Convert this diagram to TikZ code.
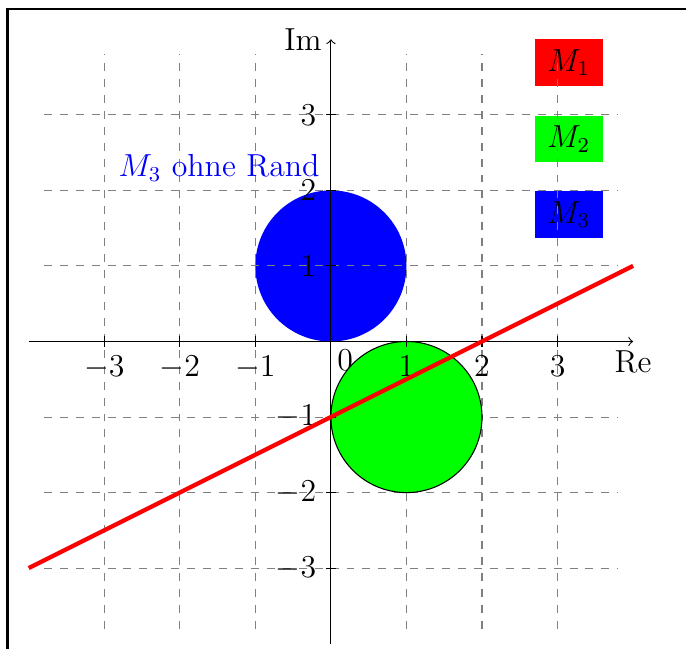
\documentclass[tikz,border=0pt]{standalone}
\usepackage{amsmath,amssymb}
\usepackage{tikz}
\begin{document}
\begin{tikzpicture}[>=to,scale=1,font=\large,
  legbox/.style={minimum width=0.91cm,minimum height=0.62cm,inner sep=0pt}]
	  \useasboundingbox (-4.38,-4.07) rectangle (4.70,4.52);
	  \draw[line width=1pt] (-4.28,4.40) rectangle (5.2,-5.2);
	  \node[legbox,fill=red] (m1) at (3.15,3.69) {$M_1$};
	  \node[legbox,fill=green] (m2) at (3.15,2.68) {$M_2$};
	  \node[legbox,fill=blue] (m3) at (3.15,1.68) {$M_3$};
	  \fill[blue] (0,1) circle (1);
	  \draw[gray,dashed] (-3.8,-3.8) grid (3.8,3.8);
	  \draw[->] (-4,0) -- (4,0);
	  \draw[->] (0,-4) -- (0,4);
	  \node[below] (re) at (4,0) {Re};
	  \node[left] (im) at (0,4) {Im};
	  \node (o) at (0.19,-0.25) {$0$};
	  \draw[fill=green] (1,-1) circle (1);
	  \draw (-3,0.07) -- (-3,-0.07) node[below] (xm3) {$-3$};
	  \draw (-2,0.07) -- (-2,-0.07) node[below] (xm2) {$-2$};
	  \draw (-1,0.07) -- (-1,-0.07) node[below] (xm1) {$-1$};
	  \draw (1,0.07) -- (1,-0.07) node[below] (x1) {$1$};
	  \draw (2,0.07) -- (2,-0.07) node[below] (x2) {$2$};
	  \draw (3,0.07) -- (3,-0.07) node[below] (x3) {$3$};
	  \draw (0.07,3) -- (-0.07,3) node[left] (y3) {$3$};
	  \draw (0.07,2) -- (-0.07,2) node[left] (y2) {$2$};
	  \draw (0.07,1) -- (-0.07,1) node[left] (y1) {$1$};
	  \draw (0.07,-1) -- (-0.07,-1) node[left] (ym1) {$-1$};
	  \draw (0.07,-2) -- (-0.07,-2) node[left] (ym2) {$-2$};
	  \draw (0.07,-3) -- (-0.07,-3) node[left] (ym3) {$-3$};
	  \draw[red,line width=1.6pt] (-4,-3) -- (4,1);
	  \node[blue] (rand) at (-1.48,2.3) {$M_3$ ohne Rand};
	\end{tikzpicture}
\end{document}
